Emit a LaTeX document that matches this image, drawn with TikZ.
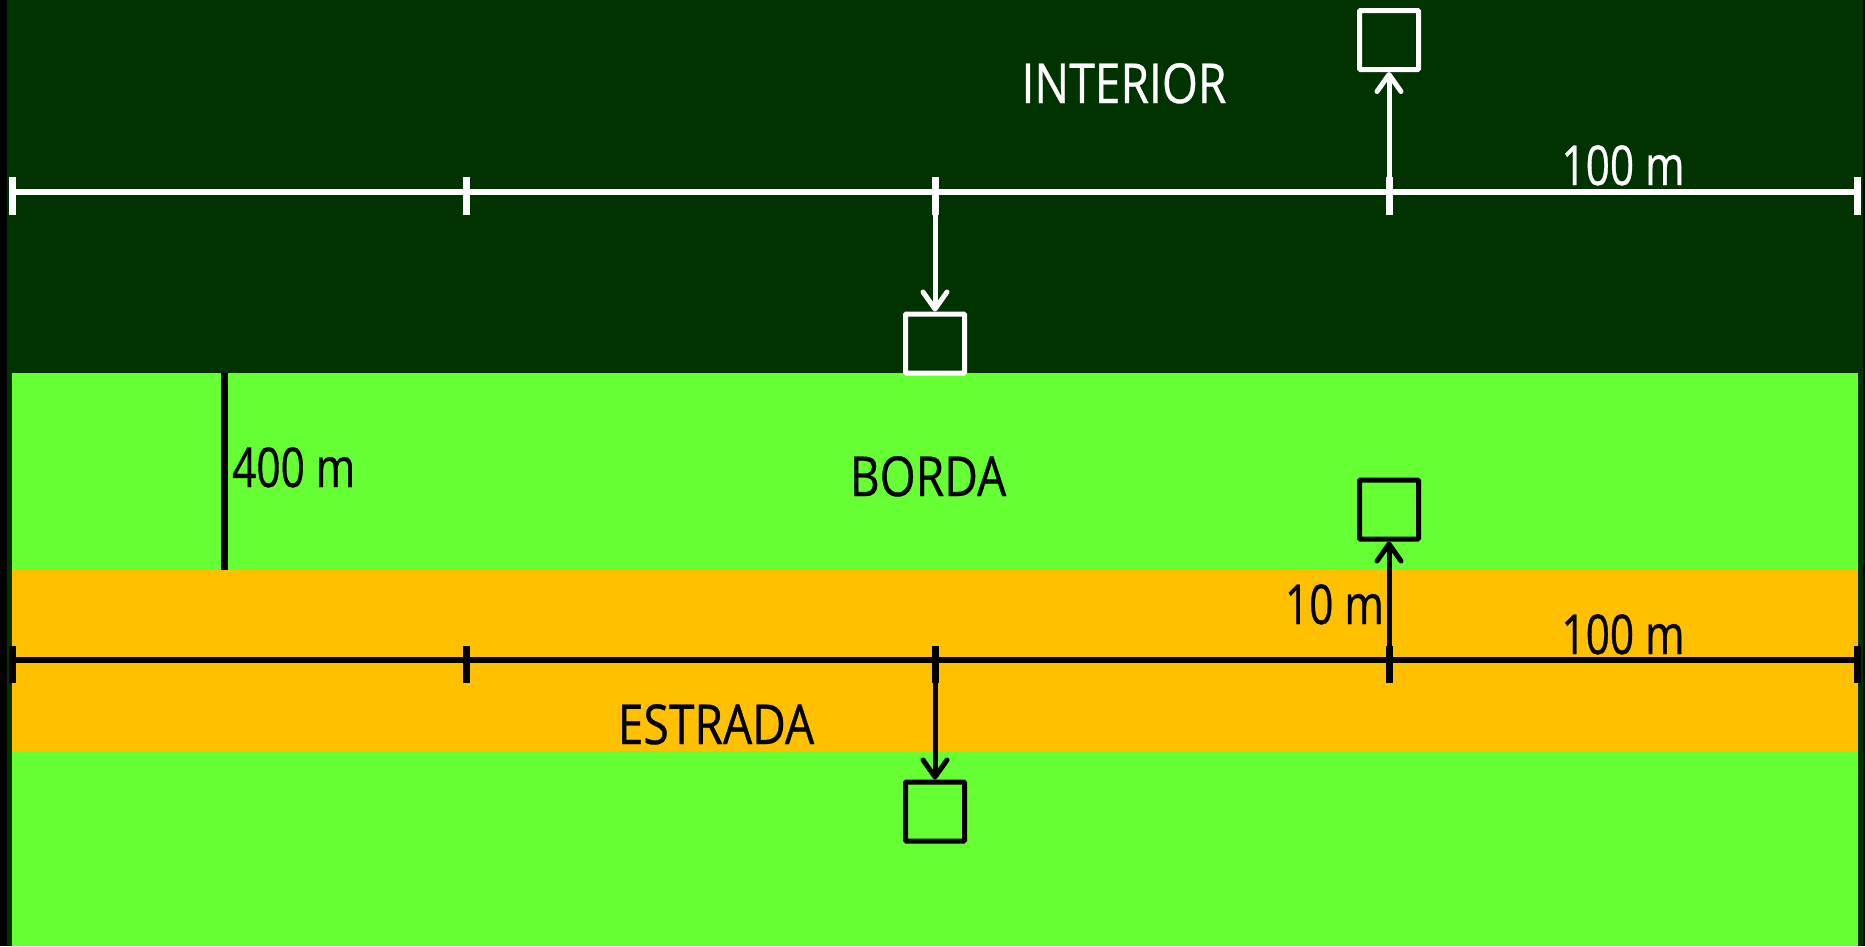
\documentclass[tikz,border=0pt]{standalone}
\usepackage{fontspec}
\newfontfamily\labfont[FakeStretch=0.84,FakeBold=0.6]{Open Sans}
\newfontfamily\numfont[FakeStretch=0.77,FakeBold=0.6]{Open Sans}
\usetikzlibrary{arrows.meta}
\definecolor{darkbg}{HTML}{003300}
\definecolor{lightg}{HTML}{66FF33}
\definecolor{road}{HTML}{FFC000}
\begin{document}
\begin{tikzpicture}[x=1pt,y=-1pt,
  lab/.style={font=\labfont\fontsize{55pt}{60pt}\selectfont, inner sep=0pt},
  num/.style={font=\numfont\fontsize{55pt}{60pt}\selectfont, inner sep=0pt},
  sbox/.style={draw, line width=5pt, minimum size=59pt, inner sep=0pt, rounded corners=1pt},
  arr/.style={line width=5pt, -{Straight Barb[length=17pt,width=24pt,round]}},
  scaleline/.style={line width=6pt},
  tickmark/.style={line width=7pt}]
\useasboundingbox (0,0) rectangle (1865,946);
% backgrounds
\fill[black] (0,0) rectangle (1865,946);
\fill[darkbg] (7,0) rectangle (1863,946);
\fill[lightg] (12,373) rectangle (1858,946);
\fill[road] (12,570) rectangle (1858,751);
% top scale (white)
\draw[white, scaleline] (12,192) -- (1857,192);
\foreach \x in {12.5,466.5,935,1389,1857.5} \draw[white, tickmark] (\x,177) -- (\x,215);
\node[lab, text=white, anchor=base] (tint) at (1124,103) {INTERIOR};
\node[num, text=white, anchor=base] (t100a) at (1623,185) {100 m};
\node[sbox, draw=white] (b1) at (1389,40) {};
\node[sbox, draw=white] (b2) at (935,343.5) {};
\coordinate (s1) at (1389,215);
\coordinate (s2) at (935,192);
\draw[white, arr] (s1) -- (b1.south);
\draw[white, arr] (s2) -- (b2.north);
% 400 m
\draw[black, line width=7pt] (224.5,373) -- (224.5,570);
\node[num, text=black, anchor=base west] (t400) at (232,487) {400 m};
\node[lab, text=black, anchor=base] (tborda) at (928,496) {BORDA};
% bottom scale (black)
\draw[black, scaleline] (12,660) -- (1857,660);
\foreach \x in {12.5,466.5,935,1389,1857.5} \draw[black, tickmark] (\x,646) -- (\x,683);
\node[num, text=black, anchor=base east] (t10) at (1384,624) {10 m};
\node[num, text=black, anchor=base] (t100b) at (1623,654) {100 m};
\node[lab, text=black, anchor=base] (test) at (716,744) {ESTRADA};
\node[sbox, draw=black] (b3) at (1389,509.5) {};
\node[sbox, draw=black] (b4) at (935,811.5) {};
\coordinate (s3) at (1389,683);
\coordinate (s4) at (935,660);
\draw[black, arr] (s3) -- (b3.south);
\draw[black, arr] (s4) -- (b4.north);
\end{tikzpicture}
\end{document}
